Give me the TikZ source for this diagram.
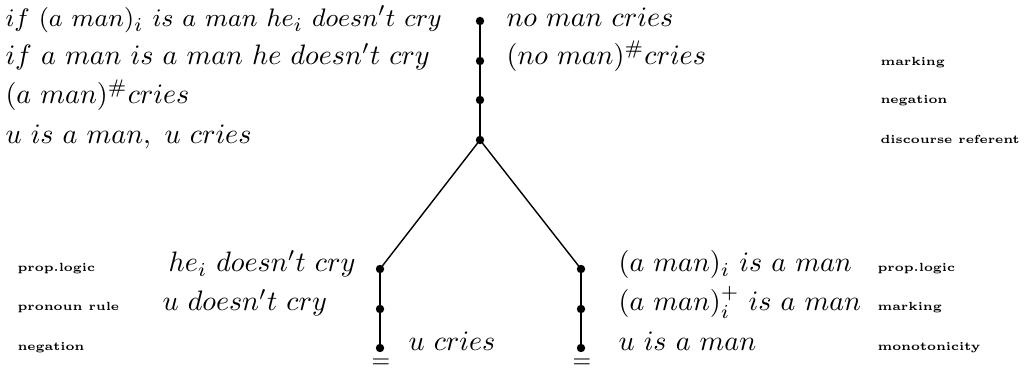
\documentclass[tikz,border=0pt]{standalone}
\usepackage{amsmath}
\usetikzlibrary{positioning}

\tikzset{
  dot/.style={circle, fill, inner sep=0pt, minimum size=1.05mm},
  sent/.style={anchor=base west, inner sep=0pt, font=\fontsize{9.75}{11}\selectfont},
  rulename/.style={anchor=base west, inner sep=0pt, font=\bfseries\fontsize{4.2}{5}\selectfont},
  stem/.style={line width=0.75pt},
  fork/.style={line width=0.5pt},
  closed/.style={inner sep=0pt, font=\footnotesize}
}

\begin{document}
\begin{tikzpicture}[x=0.0125cm, y=-0.0125cm]
\useasboundingbox (0,0) rectangle (1024,372);

% main branch
\node[dot] (t1) at (480,21) {};
\node[dot] (t2) at (480,61) {};
\node[dot] (t3) at (480,100) {};
\node[dot] (t4) at (480,140) {};

\node[sent, font=\fontsize{9.3}{11}\selectfont] (s1) at (5,27) {$if\ (a\ man)_i\ is\ a\ man\ he_i\ doesn't\ cry$};
\node[sent] (s2) at (5,65) {$if\ a\ man\ is\ a\ man\ he\ doesn't\ cry$};
\node[sent] (s3) at (5,104) {$(a\ man)^{\#}cries$};
\node[sent] (s4) at (5,144) {$u\ is\ a\ man,\ u\ cries$};
\node[sent] (n1) at (506,27) {$no\ man\ cries$};
\node[sent] (n2) at (506,65) {$(no\ man)^{\#}cries$};

\node[rulename] (m2) at (880,66) {marking};
\node[rulename] (m3) at (880,104) {negation};
\node[rulename] (m4) at (880,144) {discourse referent};

% left branch
\node[dot] (l1) at (380,269) {};
\node[dot] (l2) at (380,309) {};
\node[dot] (l3) at (380,348) {};
\node[closed] (eqL) at (381,363) {$=$};

\node[rulename] (ml1) at (17,272) {prop.logic};
\node[rulename] (ml2) at (17,311) {pronoun rule};
\node[rulename] (ml3) at (17,351) {negation};
\node[sent] (sl1) at (168,272) {$he_i\ doesn't\ cry$};
\node[sent] (sl2) at (162,311) {$u\ doesn't\ cry$};
\node[sent] (sl3) at (408,351) {$u\ cries$};

% right branch
\node[dot] (r1) at (581,269) {};
\node[dot] (r2) at (581,309) {};
\node[dot] (r3) at (581,348) {};
\node[closed] (eqR) at (582,363) {$=$};

\node[sent] (sr1) at (618,272) {$(a\ man)_i\ is\ a\ man$};
\node[sent] (sr2) at (618,311) {$(a\ man)_i^+\ is\ a\ man$};
\node[sent] (sr3) at (618,351) {$u\ is\ a\ man$};
\node[rulename] (mr1) at (877,272) {prop.logic};
\node[rulename] (mr2) at (877,311) {marking};
\node[rulename] (mr3) at (877,351) {monotonicity};

\draw[stem] (t1.center) -- (t2.center) -- (t3.center) -- (t4.center);
\draw[fork] (t4.center) -- (l1.center);
\draw[fork] (t4.center) -- (r1.center);
\draw[stem] (l1.center) -- (l2.center) -- (l3.center);
\draw[stem] (r1.center) -- (r2.center) -- (r3.center);
\end{tikzpicture}
\end{document}
